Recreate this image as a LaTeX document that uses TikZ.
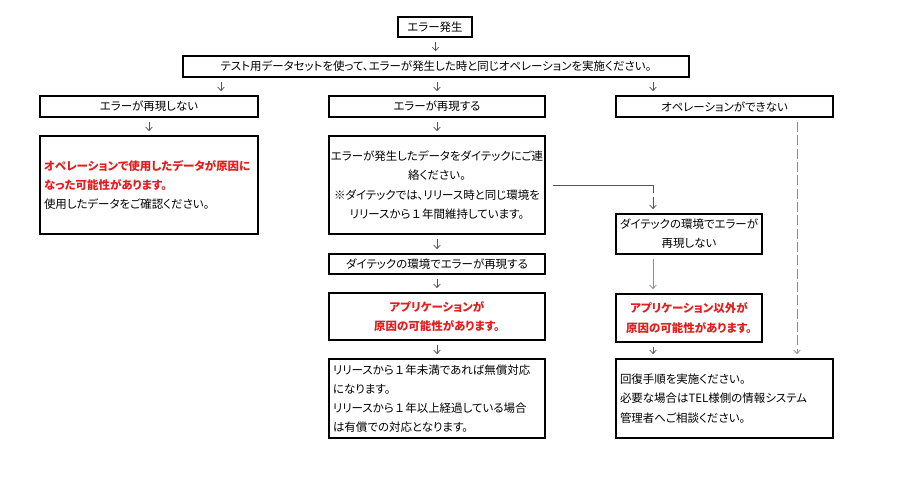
\documentclass[tikz,border=0pt]{standalone}
\usepackage{fontspec}
\setmainfont{Noto Sans CJK JP}[RawFeature={+palt}]
\newfontfamily\jpwide{Noto Sans CJK JP}
\newcommand{\wideone}{{\jpwide １}}
\usepackage{xcolor}
\definecolor{alert}{RGB}{226,30,30}
\definecolor{wire}{RGB}{85,85,85}
\definecolor{guide}{RGB}{140,140,140}
\usetikzlibrary{arrows.meta,calc}

\begin{document}
\begin{tikzpicture}[x=0.75pt, y=-0.75pt,
  cell/.style 2 args={draw, line width=1.4pt, minimum width=#1*0.75pt, minimum height=#2*0.75pt, inner sep=0pt, align=center, font=\fontsize{8.6pt}{14.4pt}\selectfont},
  textcell/.style={text width=#1*0.75pt-6pt, inner xsep=3pt, align=left},
  hot/.style={text=alert, font=\fontsize{8.6pt}{14.4pt}\selectfont\bfseries},
  arrowstyle/.style={-{Straight Barb[length=2.6pt,width=5pt]}, line width=0.55pt, color=wire, shorten <=3pt, shorten >=3pt},
  plain/.style={line width=0.6pt, color=wire},
  dashline/.style={arrowstyle, color=guide, dash pattern=on 7.5pt off 2.5pt}
]
\useasboundingbox (0,0) rectangle (905,488);

% column positions of the free arrows
\coordinate (colA) at (221,0);
\coordinate (colC) at (653,0);
\coordinate (colD) at (797,0);

\node[cell={74}{20}] (start) at (435,27) {エラー発生};
\node[cell={506}{21}] (test) at (436,66.5) {テスト用データセットを使って、エラーが発生した時と同じオペレーションを実施ください。};

\node[cell={218}{21}] (norep) at (149,106.5) {エラーが再現しない};
\node[cell={216}{21}] (rep) at (437,106.5) {エラーが再現する};
\node[cell={217}{21}] (noop) at (724.5,106.5) {オペレーションができない};

\node[cell={218}{98}, textcell=218] (datacause) at (149,185) {
  {\color{alert}\bfseries オペレーションで使用したデータが原因に}\\
  {\color{alert}\bfseries なった可能性があります。}\\
  使用したデータをご確認ください。
};
\node[cell={216}{98}] (contact) at (437,185) {
  エラーが発生したデータをダイテックにご連\\
  絡ください。\\
  ※ダイテックでは、リリース時と同じ環境を\\
  リリースから\wideone 年間維持しています。
};
\node[cell={216}{20}] (reprod) at (437,264) {ダイテックの環境でエラーが再現する};
\node[cell={216}{47}, hot] (appcause) at (437,316.5) {アプリケーションが\\原因の可能性があります。};
\node[cell={216}{79}, textcell=216] (fee) at (437,398.5) {
  リリースから\wideone 年未満であれば無償対応\\
  になります。\\
  リリースから\wideone 年以上経過している場合\\
  は有償での対応となります。
};

\node[cell={146}{40}] (notreprod) at (689,234) {ダイテックの環境でエラーが\\再現しない};
\node[cell={146}{48}, hot] (othercause) at (689,318) {アプリケーション以外が\\原因の可能性があります。};
\node[cell={217}{79}, textcell=217] (recover) at (724.5,398.5) {
  回復手順を実施ください。\\
  必要な場合はTEL様側の情報システム\\
  管理者へご相談ください。
};

\coordinate (bend) at (653,193);

\draw[arrowstyle] (start) -- (test);
\draw[arrowstyle] (test.south -| colA) -- (norep.north -| colA);
\draw[arrowstyle] (test.south -| rep.north) -- (rep.north);
\draw[arrowstyle] (test.south -| colC) -- (noop.north -| colC);
\draw[arrowstyle] (norep) -- (datacause);
\draw[arrowstyle] (rep) -- (contact);
\draw[arrowstyle] (contact) -- (reprod);
\draw[arrowstyle] (reprod) -- (appcause);
\draw[arrowstyle] (appcause) -- (fee);

\draw[plain] ([xshift=5pt]contact.east) -| (bend);
\draw[arrowstyle] (bend) -- (notreprod.north -| bend);
\draw[arrowstyle, color=guide] (notreprod.south -| colC) -- (othercause.north -| colC);
\draw[arrowstyle] (othercause.south -| colC) -- (recover.north -| colC);
\draw[dashline] (noop.south -| colD) -- (recover.north -| colD);
\end{tikzpicture}
\end{document}
